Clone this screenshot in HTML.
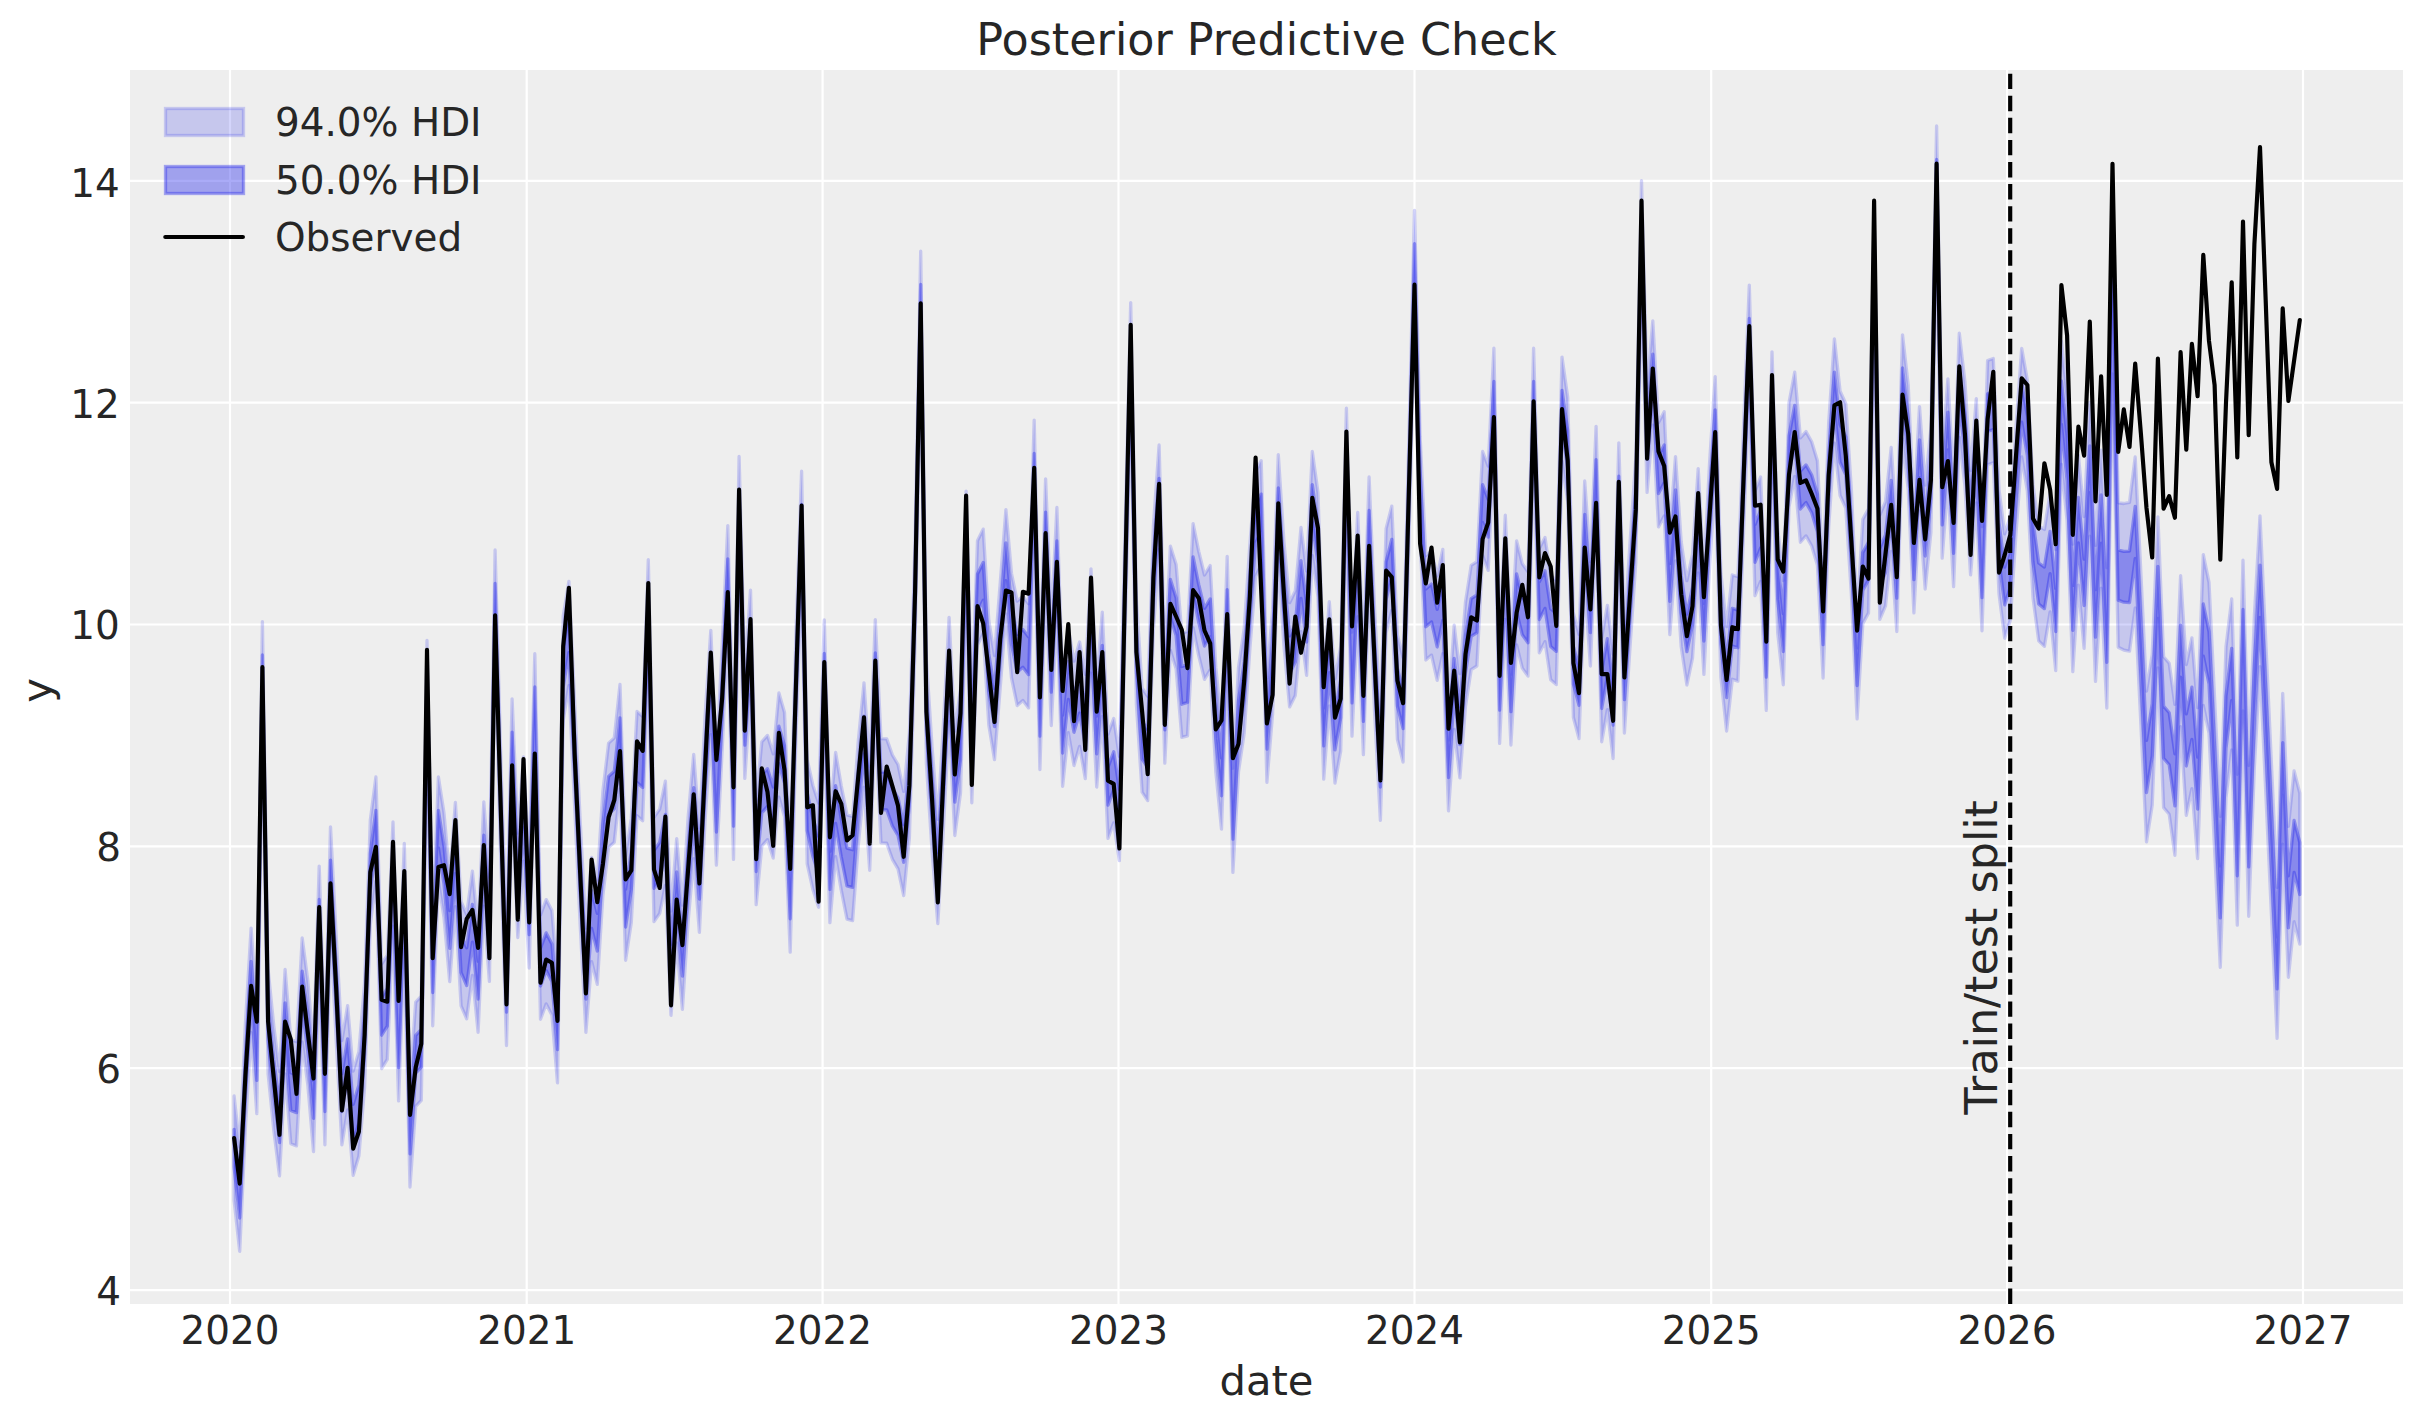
<!DOCTYPE html><html><head><meta charset="utf-8"><title>Posterior Predictive Check</title>
<style>html,body{margin:0;padding:0;background:#fff}svg{display:block}text{font-family:"DejaVu Sans","Liberation Sans",sans-serif;fill:#262626}</style></head><body>
<svg width="2423" height="1423" viewBox="0 0 2423 1423">
<rect x="0" y="0" width="2423" height="1423" fill="#fff"/>
<rect x="130" y="70" width="2273" height="1234" fill="#eeeeee"/>
<g stroke="#fff" stroke-width="2.2" fill="none">
<line x1="230.0" y1="70" x2="230.0" y2="1304"/>
<line x1="526.7" y1="70" x2="526.7" y2="1304"/>
<line x1="822.6" y1="70" x2="822.6" y2="1304"/>
<line x1="1118.5" y1="70" x2="1118.5" y2="1304"/>
<line x1="1414.5" y1="70" x2="1414.5" y2="1304"/>
<line x1="1711.2" y1="70" x2="1711.2" y2="1304"/>
<line x1="2007.1" y1="70" x2="2007.1" y2="1304"/>
<line x1="2303.0" y1="70" x2="2303.0" y2="1304"/>
<line x1="130" y1="1290.1" x2="2403" y2="1290.1"/>
<line x1="130" y1="1068.2" x2="2403" y2="1068.2"/>
<line x1="130" y1="846.4" x2="2403" y2="846.4"/>
<line x1="130" y1="624.5" x2="2403" y2="624.5"/>
<line x1="130" y1="402.7" x2="2403" y2="402.7"/>
<line x1="130" y1="180.8" x2="2403" y2="180.8"/>
</g>
<clipPath id="c"><rect x="130" y="70" width="2273" height="1234"/></clipPath>
<g clip-path="url(#c)">
<path d="M234.1 1096.0 L239.7 1147.0 L245.4 1023.9 L251.1 928.1 L256.8 1009.4 L262.4 621.7 L268.1 969.5 L273.8 1026.1 L279.5 1071.6 L285.1 969.5 L290.8 1039.4 L296.5 1041.6 L302.2 937.9 L307.8 980.4 L313.5 1047.4 L319.2 866.1 L324.9 1040.5 L330.5 826.9 L336.2 936.2 L341.9 1040.5 L347.6 1005.7 L353.2 1071.0 L358.9 1051.6 L364.6 982.8 L370.3 820.2 L375.9 777.0 L381.6 964.2 L387.3 955.1 L393.0 822.0 L398.6 996.6 L404.3 843.4 L410.0 1082.8 L415.7 1002.1 L421.3 996.1 L427.0 640.5 L432.7 921.5 L438.4 777.0 L444.0 813.1 L449.7 877.4 L455.4 802.3 L461.1 901.6 L466.7 914.5 L472.4 871.1 L478.1 928.0 L483.8 801.9 L489.4 877.1 L495.1 550.0 L500.8 757.8 L506.5 941.2 L512.1 698.8 L517.8 833.2 L523.5 756.9 L529.2 863.7 L534.8 653.7 L540.5 915.0 L546.2 899.6 L551.9 910.6 L557.5 978.6 L563.2 616.2 L568.9 581.3 L574.6 701.1 L580.2 821.2 L585.9 928.0 L591.6 857.4 L597.3 880.0 L602.9 790.9 L608.6 743.1 L614.3 737.9 L620.0 684.5 L625.6 856.0 L631.3 818.2 L637.0 711.5 L642.7 716.5 L648.3 559.7 L654.0 817.3 L659.7 809.1 L665.4 781.2 L671.0 911.1 L676.7 838.7 L682.4 905.2 L688.1 817.6 L693.7 754.4 L699.4 828.1 L705.1 715.9 L710.8 630.3 L716.4 761.0 L722.1 646.7 L727.8 525.6 L733.5 755.1 L739.1 456.5 L744.8 674.1 L750.5 590.1 L756.2 800.5 L761.8 741.8 L767.5 735.4 L773.2 753.8 L778.9 692.9 L784.5 712.4 L790.2 847.8 L795.9 635.1 L801.6 471.2 L807.2 759.6 L812.9 785.4 L818.6 803.0 L824.3 620.0 L829.9 818.4 L835.6 752.4 L841.3 786.1 L847.0 814.9 L852.6 816.4 L858.3 740.8 L864.0 682.9 L869.7 766.1 L875.3 619.6 L881.0 738.6 L886.7 738.9 L892.4 755.0 L898.0 764.5 L903.7 791.4 L909.4 733.2 L915.1 539.1 L920.7 251.2 L926.4 659.5 L932.1 747.7 L937.8 819.3 L943.4 724.4 L949.1 617.3 L954.8 731.2 L960.5 688.9 L966.1 491.1 L971.8 698.5 L977.5 540.8 L983.2 529.1 L988.8 620.6 L994.5 655.5 L1000.2 583.5 L1005.9 509.6 L1011.5 573.5 L1017.2 601.1 L1022.9 596.2 L1028.6 603.7 L1034.2 420.1 L1039.9 665.2 L1045.6 478.9 L1051.3 621.2 L1056.9 507.5 L1062.6 682.1 L1068.3 628.4 L1074.0 661.2 L1079.6 642.0 L1085.3 674.3 L1091.0 568.8 L1096.7 682.8 L1102.3 612.1 L1108.0 734.1 L1113.7 718.5 L1119.4 756.4 L1125.0 534.5 L1130.7 302.6 L1136.4 600.0 L1142.1 688.0 L1147.7 696.4 L1153.4 525.8 L1159.1 445.0 L1164.8 658.8 L1170.4 546.2 L1176.1 564.4 L1181.8 633.2 L1187.5 631.5 L1193.1 523.6 L1198.8 551.6 L1204.5 575.0 L1210.2 565.6 L1215.8 667.2 L1221.5 724.8 L1227.2 556.3 L1232.9 768.2 L1238.5 667.6 L1244.2 628.6 L1249.9 544.2 L1255.6 472.1 L1261.2 460.8 L1266.9 678.0 L1272.6 609.4 L1278.3 454.6 L1283.9 541.4 L1289.6 602.7 L1295.3 591.1 L1301.0 527.5 L1306.6 571.1 L1312.3 451.4 L1318.0 492.7 L1323.7 674.9 L1329.3 601.7 L1335.0 678.9 L1340.7 646.6 L1346.4 408.2 L1352.0 632.0 L1357.7 512.4 L1363.4 650.4 L1369.1 477.0 L1374.7 610.9 L1380.4 716.0 L1386.1 528.6 L1391.8 506.2 L1397.4 635.1 L1403.1 657.7 L1408.8 441.8 L1414.5 210.4 L1420.1 436.2 L1425.8 555.7 L1431.5 550.9 L1437.2 576.0 L1442.8 549.4 L1448.5 706.5 L1454.2 625.2 L1459.9 673.7 L1465.5 601.9 L1471.2 565.3 L1476.9 561.7 L1482.6 451.5 L1488.2 466.1 L1493.9 348.2 L1499.6 639.2 L1505.3 515.1 L1510.9 640.7 L1516.6 540.8 L1522.3 563.8 L1528.0 571.8 L1533.6 348.2 L1539.3 548.5 L1545.0 537.4 L1550.7 575.4 L1556.3 580.4 L1562.0 357.1 L1567.7 397.3 L1573.4 613.2 L1579.0 634.3 L1584.7 481.0 L1590.4 561.7 L1596.1 426.3 L1601.7 637.5 L1607.4 605.3 L1613.1 654.2 L1618.8 442.9 L1624.4 628.7 L1630.1 541.6 L1635.8 457.8 L1641.5 180.7 L1647.1 388.1 L1652.8 320.8 L1658.5 422.6 L1664.2 411.8 L1669.8 530.3 L1675.5 456.6 L1681.2 542.1 L1686.9 580.7 L1692.5 554.0 L1698.2 468.7 L1703.9 570.1 L1709.6 462.5 L1715.2 376.6 L1720.9 573.2 L1726.6 626.7 L1732.3 575.0 L1737.9 576.8 L1743.6 425.4 L1749.3 285.1 L1755.0 491.3 L1760.6 477.0 L1766.3 606.1 L1772.0 351.9 L1777.7 528.5 L1783.3 580.5 L1789.0 402.7 L1794.7 372.2 L1800.4 437.9 L1806.0 431.6 L1811.7 441.7 L1817.4 460.7 L1823.1 573.7 L1828.7 422.6 L1834.4 338.9 L1840.1 391.2 L1845.8 403.8 L1851.4 490.3 L1857.1 614.5 L1862.8 519.4 L1868.5 508.7 L1874.1 215.1 L1879.8 515.0 L1885.5 501.7 L1891.2 447.3 L1896.8 527.2 L1902.5 334.8 L1908.2 384.9 L1913.9 508.6 L1919.5 406.7 L1925.2 485.0 L1930.9 428.2 L1936.6 126.0 L1942.2 453.9 L1947.9 378.9 L1953.6 482.3 L1959.3 333.1 L1964.9 381.6 L1970.6 470.5 L1976.3 398.6 L1982.0 526.6 L1987.6 360.5 L1993.3 358.5 L1999.0 489.5 L2004.7 533.9 L2010.3 516.0 L2016.0 427.1 L2021.7 348.4 L2027.4 380.6 L2033.0 484.9 L2038.7 526.0 L2044.4 529.4 L2050.1 492.9 L2055.7 549.5 L2061.4 341.0 L2067.1 395.4 L2072.8 544.1 L2078.4 455.4 L2084.1 516.5 L2089.8 402.3 L2095.5 545.4 L2101.1 450.1 L2106.8 567.7 L2112.5 231.6 L2118.2 502.8 L2123.8 503.5 L2129.5 502.4 L2135.2 457.0 L2140.9 573.5 L2146.5 691.1 L2152.2 654.5 L2157.9 516.9 L2163.6 656.7 L2169.2 663.3 L2174.9 704.4 L2180.6 575.7 L2186.3 664.5 L2191.9 637.8 L2197.6 707.7 L2203.3 554.6 L2209.0 582.4 L2214.6 698.8 L2220.3 816.4 L2226.0 646.7 L2231.7 599.0 L2237.3 774.3 L2243.0 560.2 L2248.7 765.4 L2254.4 615.6 L2260.0 515.8 L2265.7 640.1 L2271.4 763.2 L2277.1 887.4 L2282.7 693.3 L2288.4 826.4 L2294.1 770.9 L2299.8 793.1 L2299.8 944.0 L2294.1 921.8 L2288.4 977.3 L2282.7 844.2 L2277.1 1038.3 L2271.4 914.0 L2265.7 790.9 L2260.0 666.7 L2254.4 766.5 L2248.7 916.3 L2243.0 711.0 L2237.3 925.1 L2231.7 749.9 L2226.0 797.6 L2220.3 967.3 L2214.6 849.7 L2209.0 733.2 L2203.3 705.5 L2197.6 858.6 L2191.9 788.7 L2186.3 815.3 L2180.6 726.6 L2174.9 855.3 L2169.2 814.2 L2163.6 807.6 L2157.9 667.8 L2152.2 805.3 L2146.5 841.9 L2140.9 724.4 L2135.2 607.9 L2129.5 651.2 L2123.8 650.1 L2118.2 647.3 L2112.5 374.0 L2106.8 708.0 L2101.1 588.2 L2095.5 681.4 L2089.8 536.2 L2084.1 648.3 L2078.4 585.1 L2072.8 671.7 L2067.1 520.9 L2061.4 464.3 L2055.7 670.7 L2050.1 612.0 L2044.4 646.4 L2038.7 640.9 L2033.0 597.7 L2027.4 491.3 L2021.7 456.9 L2016.0 533.5 L2010.3 620.3 L2004.7 638.2 L1999.0 593.8 L1993.3 462.8 L1987.6 464.8 L1982.0 630.8 L1976.3 502.8 L1970.6 574.8 L1964.9 485.9 L1959.3 437.4 L1953.6 586.6 L1947.9 483.2 L1942.2 558.2 L1936.6 230.3 L1930.9 532.4 L1925.2 589.2 L1919.5 510.9 L1913.9 612.9 L1908.2 489.2 L1902.5 439.0 L1896.8 631.5 L1891.2 551.5 L1885.5 605.9 L1879.8 619.3 L1874.1 319.4 L1868.5 613.0 L1862.8 623.6 L1857.1 718.8 L1851.4 594.6 L1845.8 508.0 L1840.1 495.5 L1834.4 443.1 L1828.7 526.9 L1823.1 678.0 L1817.4 565.0 L1811.7 546.0 L1806.0 535.9 L1800.4 542.2 L1794.7 476.4 L1789.0 506.9 L1783.3 684.8 L1777.7 632.7 L1772.0 456.1 L1766.3 710.4 L1760.6 581.3 L1755.0 595.6 L1749.3 389.3 L1743.6 529.7 L1737.9 681.1 L1732.3 679.3 L1726.6 731.0 L1720.9 677.4 L1715.2 480.9 L1709.6 566.8 L1703.9 674.3 L1698.2 572.9 L1692.5 658.2 L1686.9 685.0 L1681.2 646.4 L1675.5 560.8 L1669.8 634.6 L1664.2 516.0 L1658.5 526.9 L1652.8 425.1 L1647.1 492.4 L1641.5 285.0 L1635.8 562.1 L1630.1 645.9 L1624.4 733.0 L1618.8 547.2 L1613.1 758.5 L1607.4 709.6 L1601.7 741.8 L1596.1 530.6 L1590.4 666.0 L1584.7 585.3 L1579.0 738.6 L1573.4 717.5 L1567.7 501.6 L1562.0 461.3 L1556.3 684.6 L1550.7 679.7 L1545.0 641.7 L1539.3 652.8 L1533.6 452.5 L1528.0 676.1 L1522.3 668.1 L1516.6 645.0 L1510.9 745.0 L1505.3 619.4 L1499.6 743.4 L1493.9 452.5 L1488.2 570.4 L1482.6 555.7 L1476.9 666.0 L1471.2 669.6 L1465.5 706.2 L1459.9 777.9 L1454.2 729.5 L1448.5 810.8 L1442.8 653.7 L1437.2 680.3 L1431.5 655.1 L1425.8 660.0 L1420.1 540.4 L1414.5 314.7 L1408.8 546.1 L1403.1 762.0 L1397.4 739.3 L1391.8 610.4 L1386.1 632.8 L1380.4 820.3 L1374.7 715.2 L1369.1 581.3 L1363.4 754.6 L1357.7 616.6 L1352.0 736.2 L1346.4 512.5 L1340.7 750.9 L1335.0 783.1 L1329.3 705.9 L1323.7 779.2 L1318.0 597.0 L1312.3 555.6 L1306.6 675.3 L1301.0 631.7 L1295.3 695.4 L1289.6 706.9 L1283.9 645.7 L1278.3 558.8 L1272.6 713.7 L1266.9 782.3 L1261.2 565.1 L1255.6 576.4 L1249.9 648.5 L1244.2 732.9 L1238.5 771.8 L1232.9 872.4 L1227.2 660.6 L1221.5 829.1 L1215.8 771.5 L1210.2 669.9 L1204.5 679.3 L1198.8 655.9 L1193.1 627.8 L1187.5 735.8 L1181.8 737.4 L1176.1 668.7 L1170.4 650.5 L1164.8 763.1 L1159.1 549.3 L1153.4 630.1 L1147.7 800.7 L1142.1 792.2 L1136.4 704.3 L1130.7 406.9 L1125.0 638.8 L1119.4 860.7 L1113.7 822.8 L1108.0 838.4 L1102.3 716.4 L1096.7 787.0 L1091.0 673.1 L1085.3 778.6 L1079.6 746.3 L1074.0 765.5 L1068.3 732.7 L1062.6 786.4 L1056.9 611.8 L1051.3 725.5 L1045.6 583.1 L1039.9 769.5 L1034.2 524.4 L1028.6 707.9 L1022.9 700.5 L1017.2 705.4 L1011.5 677.8 L1005.9 613.9 L1000.2 687.8 L994.5 759.7 L988.8 724.9 L983.2 633.4 L977.5 645.0 L971.8 802.8 L966.1 595.3 L960.5 793.1 L954.8 835.5 L949.1 721.6 L943.4 828.7 L937.8 923.6 L932.1 851.9 L926.4 763.7 L920.7 355.5 L915.1 643.4 L909.4 837.5 L903.7 895.6 L898.0 868.8 L892.4 859.3 L886.7 843.2 L881.0 842.8 L875.3 723.9 L869.7 870.3 L864.0 787.1 L858.3 845.0 L852.6 920.7 L847.0 919.2 L841.3 890.4 L835.6 856.7 L829.9 922.7 L824.3 724.2 L818.6 907.3 L812.9 889.6 L807.2 863.9 L801.6 575.5 L795.9 739.4 L790.2 952.1 L784.5 816.7 L778.9 797.1 L773.2 858.0 L767.5 839.7 L761.8 846.0 L756.2 904.7 L750.5 694.4 L744.8 778.4 L739.1 560.7 L733.5 859.4 L727.8 629.8 L722.1 751.0 L716.4 865.2 L710.8 734.6 L705.1 820.1 L699.4 932.4 L693.7 858.7 L688.1 921.9 L682.4 1009.4 L676.7 943.0 L671.0 1015.3 L665.4 885.4 L659.7 913.4 L654.0 921.6 L648.3 664.0 L642.7 820.8 L637.0 815.8 L631.3 922.5 L625.6 960.3 L620.0 788.8 L614.3 842.2 L608.6 847.4 L602.9 895.2 L597.3 984.3 L591.6 961.6 L585.9 1032.3 L580.2 925.5 L574.6 805.3 L568.9 685.5 L563.2 720.5 L557.5 1082.9 L551.9 1014.9 L546.2 1003.9 L540.5 1019.3 L534.8 758.0 L529.2 968.0 L523.5 861.1 L517.8 937.5 L512.1 803.1 L506.5 1045.5 L500.8 862.1 L495.1 654.2 L489.4 981.4 L483.8 906.2 L478.1 1032.3 L472.4 975.4 L466.7 1018.8 L461.1 1005.9 L455.4 906.6 L449.7 981.7 L444.0 917.4 L438.4 881.3 L432.7 1025.8 L427.0 744.8 L421.3 1100.4 L415.7 1106.4 L410.0 1187.0 L404.3 947.7 L398.6 1100.9 L393.0 926.2 L387.3 1059.4 L381.6 1068.5 L375.9 881.3 L370.3 924.5 L364.6 1087.1 L358.9 1155.9 L353.2 1175.3 L347.6 1109.9 L341.9 1144.8 L336.2 1040.5 L330.5 931.1 L324.9 1144.8 L319.2 970.4 L313.5 1151.7 L307.8 1084.7 L302.2 1042.2 L296.5 1145.9 L290.8 1143.7 L285.1 1073.8 L279.5 1175.8 L273.8 1130.4 L268.1 1073.8 L262.4 726.0 L256.8 1113.7 L251.1 1032.4 L245.4 1128.1 L239.7 1251.3 L234.1 1200.2Z" fill="#2a2eec" fill-opacity="0.2" stroke="#2a2eec" stroke-opacity="0.2" stroke-width="3.3" stroke-linejoin="round"/>
<path d="M234.1 1129.3 L239.7 1180.3 L245.4 1057.1 L251.1 961.4 L256.8 1042.7 L262.4 655.0 L268.1 1002.8 L273.8 1059.4 L279.5 1104.8 L285.1 1002.8 L290.8 1072.7 L296.5 1074.9 L302.2 971.2 L307.8 1013.7 L313.5 1080.7 L319.2 899.4 L324.9 1073.8 L330.5 860.1 L336.2 969.5 L341.9 1073.8 L347.6 1039.0 L353.2 1104.3 L358.9 1084.9 L364.6 1016.1 L370.3 853.5 L375.9 810.3 L381.6 997.5 L387.3 988.4 L393.0 855.3 L398.6 1029.9 L404.3 876.7 L410.0 1116.1 L415.7 1035.4 L421.3 1029.4 L427.0 673.8 L432.7 954.8 L438.4 810.3 L444.0 846.4 L449.7 910.7 L455.4 835.6 L461.1 934.9 L466.7 947.8 L472.4 904.4 L478.1 961.3 L483.8 835.2 L489.4 910.4 L495.1 583.3 L500.8 791.1 L506.5 974.5 L512.1 732.1 L517.8 866.5 L523.5 790.1 L529.2 897.0 L534.8 687.0 L540.5 948.3 L546.2 932.9 L551.9 943.9 L557.5 1011.9 L563.2 649.5 L568.9 614.5 L574.6 734.3 L580.2 854.5 L585.9 961.3 L591.6 890.6 L597.3 913.3 L602.9 824.2 L608.6 776.4 L614.3 771.2 L620.0 717.8 L625.6 889.3 L631.3 851.5 L637.0 744.8 L642.7 749.8 L648.3 593.0 L654.0 850.6 L659.7 842.4 L665.4 814.4 L671.0 944.3 L676.7 872.0 L682.4 938.5 L688.1 850.9 L693.7 787.7 L699.4 861.4 L705.1 749.1 L710.8 663.6 L716.4 794.2 L722.1 680.0 L727.8 558.8 L733.5 788.4 L739.1 489.7 L744.8 707.4 L750.5 623.4 L756.2 833.7 L761.8 775.1 L767.5 768.7 L773.2 787.0 L778.9 726.1 L784.5 745.7 L790.2 881.1 L795.9 668.4 L801.6 504.5 L807.2 792.9 L812.9 818.6 L818.6 836.3 L824.3 653.3 L829.9 851.7 L835.6 785.7 L841.3 819.4 L847.0 848.2 L852.6 849.7 L858.3 774.1 L864.0 716.1 L869.7 799.3 L875.3 652.9 L881.0 771.8 L886.7 772.2 L892.4 788.3 L898.0 797.8 L903.7 824.6 L909.4 766.5 L915.1 572.4 L920.7 284.5 L926.4 692.7 L932.1 780.9 L937.8 852.6 L943.4 757.7 L949.1 650.6 L954.8 764.5 L960.5 722.1 L966.1 524.4 L971.8 731.8 L977.5 574.0 L983.2 562.4 L988.8 653.9 L994.5 688.7 L1000.2 616.8 L1005.9 542.9 L1011.5 606.8 L1017.2 634.4 L1022.9 629.5 L1028.6 636.9 L1034.2 453.4 L1039.9 698.5 L1045.6 512.1 L1051.3 654.5 L1056.9 540.8 L1062.6 715.4 L1068.3 661.7 L1074.0 694.5 L1079.6 675.3 L1085.3 707.6 L1091.0 602.1 L1096.7 716.0 L1102.3 645.4 L1108.0 767.4 L1113.7 751.8 L1119.4 789.7 L1125.0 567.8 L1130.7 335.9 L1136.4 633.3 L1142.1 721.3 L1147.7 729.7 L1153.4 559.1 L1159.1 478.3 L1164.8 692.1 L1170.4 579.5 L1176.1 597.7 L1181.8 666.5 L1187.5 664.8 L1193.1 556.9 L1198.8 584.9 L1204.5 608.3 L1210.2 598.9 L1215.8 700.5 L1221.5 758.1 L1227.2 589.6 L1232.9 801.5 L1238.5 700.8 L1244.2 661.9 L1249.9 577.5 L1255.6 505.4 L1261.2 494.1 L1266.9 711.3 L1272.6 642.7 L1278.3 487.9 L1283.9 574.7 L1289.6 635.9 L1295.3 624.4 L1301.0 560.7 L1306.6 604.3 L1312.3 484.6 L1318.0 526.0 L1323.7 708.2 L1329.3 634.9 L1335.0 712.2 L1340.7 679.9 L1346.4 441.5 L1352.0 665.2 L1357.7 545.6 L1363.4 683.6 L1369.1 510.3 L1374.7 644.2 L1380.4 749.3 L1386.1 561.8 L1391.8 539.4 L1397.4 668.3 L1403.1 691.0 L1408.8 475.1 L1414.5 243.7 L1420.1 469.4 L1425.8 589.0 L1431.5 584.1 L1437.2 609.3 L1442.8 582.7 L1448.5 739.8 L1454.2 658.5 L1459.9 706.9 L1465.5 635.2 L1471.2 598.6 L1476.9 595.0 L1482.6 484.7 L1488.2 499.4 L1493.9 381.5 L1499.6 672.4 L1505.3 548.4 L1510.9 674.0 L1516.6 574.0 L1522.3 597.1 L1528.0 605.1 L1533.6 381.5 L1539.3 581.8 L1545.0 570.7 L1550.7 608.7 L1556.3 613.6 L1562.0 390.3 L1567.7 430.6 L1573.4 646.5 L1579.0 667.6 L1584.7 514.3 L1590.4 595.0 L1596.1 459.6 L1601.7 670.8 L1607.4 638.6 L1613.1 687.5 L1618.8 476.2 L1624.4 662.0 L1630.1 574.9 L1635.8 491.1 L1641.5 214.0 L1647.1 421.4 L1652.8 354.1 L1658.5 455.9 L1664.2 445.0 L1669.8 563.6 L1675.5 489.9 L1681.2 575.4 L1686.9 614.0 L1692.5 587.2 L1698.2 501.9 L1703.9 603.3 L1709.6 495.8 L1715.2 409.9 L1720.9 606.4 L1726.6 660.0 L1732.3 608.3 L1737.9 610.1 L1743.6 458.7 L1749.3 318.4 L1755.0 524.6 L1760.6 510.3 L1766.3 639.4 L1772.0 385.1 L1777.7 561.7 L1783.3 613.8 L1789.0 435.9 L1794.7 405.4 L1800.4 471.2 L1806.0 464.9 L1811.7 475.0 L1817.4 494.0 L1823.1 607.0 L1828.7 455.9 L1834.4 372.2 L1840.1 424.5 L1845.8 437.0 L1851.4 523.6 L1857.1 647.8 L1862.8 552.6 L1868.5 542.0 L1874.1 248.4 L1879.8 548.3 L1885.5 534.9 L1891.2 480.5 L1896.8 560.5 L1902.5 368.0 L1908.2 418.2 L1913.9 541.9 L1919.5 439.9 L1925.2 518.2 L1930.9 461.5 L1936.6 159.3 L1942.2 487.2 L1947.9 412.2 L1953.6 515.6 L1959.3 366.4 L1964.9 414.9 L1970.6 503.8 L1976.3 431.8 L1982.0 559.8 L1987.6 393.8 L1993.3 391.8 L1999.0 522.8 L2004.7 567.2 L2010.3 549.3 L2016.0 461.1 L2021.7 383.1 L2027.4 416.1 L2033.0 521.2 L2038.7 563.0 L2044.4 567.1 L2050.1 531.3 L2055.7 588.6 L2061.4 380.9 L2067.1 436.0 L2072.8 585.4 L2078.4 497.5 L2084.1 559.2 L2089.8 445.8 L2095.5 589.7 L2101.1 495.0 L2106.8 613.4 L2112.5 278.1 L2118.2 550.0 L2123.8 551.4 L2129.5 551.1 L2135.2 506.4 L2140.9 622.9 L2146.5 740.4 L2152.2 703.8 L2157.9 566.3 L2163.6 706.1 L2169.2 712.7 L2174.9 753.8 L2180.6 625.1 L2186.3 713.8 L2191.9 687.2 L2197.6 757.1 L2203.3 604.0 L2209.0 631.7 L2214.6 748.2 L2220.3 865.8 L2226.0 696.1 L2231.7 648.4 L2237.3 823.6 L2243.0 609.5 L2248.7 814.8 L2254.4 665.0 L2260.0 565.2 L2265.7 689.4 L2271.4 812.5 L2277.1 936.8 L2282.7 742.7 L2288.4 875.8 L2294.1 820.3 L2299.8 842.5 L2299.8 894.6 L2294.1 872.4 L2288.4 927.9 L2282.7 794.8 L2277.1 988.9 L2271.4 864.7 L2265.7 741.6 L2260.0 617.3 L2254.4 717.1 L2248.7 866.9 L2243.0 661.7 L2237.3 875.8 L2231.7 700.5 L2226.0 748.2 L2220.3 917.9 L2214.6 800.3 L2209.0 683.9 L2203.3 656.1 L2197.6 809.2 L2191.9 739.3 L2186.3 766.0 L2180.6 677.2 L2174.9 805.9 L2169.2 764.8 L2163.6 758.2 L2157.9 618.4 L2152.2 756.0 L2146.5 792.6 L2140.9 675.0 L2135.2 558.5 L2129.5 602.6 L2123.8 602.2 L2118.2 600.1 L2112.5 327.6 L2106.8 662.3 L2101.1 543.2 L2095.5 637.2 L2089.8 492.7 L2084.1 605.5 L2078.4 543.0 L2072.8 630.3 L2067.1 480.3 L2061.4 424.5 L2055.7 631.6 L2050.1 573.6 L2044.4 608.7 L2038.7 604.0 L2033.0 561.5 L2027.4 455.8 L2021.7 422.2 L2016.0 499.5 L2010.3 587.0 L2004.7 604.9 L1999.0 560.5 L1993.3 429.5 L1987.6 431.5 L1982.0 597.6 L1976.3 469.6 L1970.6 541.5 L1964.9 452.6 L1959.3 404.1 L1953.6 553.3 L1947.9 449.9 L1942.2 524.9 L1936.6 197.0 L1930.9 499.2 L1925.2 556.0 L1919.5 477.6 L1913.9 579.6 L1908.2 455.9 L1902.5 405.8 L1896.8 598.2 L1891.2 518.2 L1885.5 572.7 L1879.8 586.0 L1874.1 286.1 L1868.5 579.7 L1862.8 590.4 L1857.1 685.5 L1851.4 561.3 L1845.8 474.8 L1840.1 462.2 L1834.4 409.9 L1828.7 493.6 L1823.1 644.7 L1817.4 531.7 L1811.7 512.7 L1806.0 502.6 L1800.4 508.9 L1794.7 443.1 L1789.0 473.7 L1783.3 651.5 L1777.7 599.4 L1772.0 422.8 L1766.3 677.1 L1760.6 548.0 L1755.0 562.3 L1749.3 356.1 L1743.6 496.4 L1737.9 647.8 L1732.3 646.0 L1726.6 697.7 L1720.9 644.2 L1715.2 447.6 L1709.6 533.5 L1703.9 641.0 L1698.2 539.7 L1692.5 625.0 L1686.9 651.7 L1681.2 613.1 L1675.5 527.6 L1669.8 601.3 L1664.2 482.8 L1658.5 493.6 L1652.8 391.8 L1647.1 459.1 L1641.5 251.7 L1635.8 528.8 L1630.1 612.6 L1624.4 699.7 L1618.8 513.9 L1613.1 725.2 L1607.4 676.3 L1601.7 708.5 L1596.1 497.3 L1590.4 632.7 L1584.7 552.0 L1579.0 705.3 L1573.4 684.2 L1567.7 468.3 L1562.0 428.1 L1556.3 651.4 L1550.7 646.4 L1545.0 608.4 L1539.3 619.5 L1533.6 419.2 L1528.0 642.8 L1522.3 634.8 L1516.6 611.8 L1510.9 711.7 L1505.3 586.1 L1499.6 710.2 L1493.9 419.2 L1488.2 537.1 L1482.6 522.5 L1476.9 632.7 L1471.2 636.3 L1465.5 672.9 L1459.9 744.7 L1454.2 696.2 L1448.5 777.5 L1442.8 620.4 L1437.2 647.0 L1431.5 621.9 L1425.8 626.7 L1420.1 507.2 L1414.5 281.4 L1408.8 512.8 L1403.1 728.7 L1397.4 706.1 L1391.8 577.2 L1386.1 599.6 L1380.4 787.0 L1374.7 681.9 L1369.1 548.0 L1363.4 721.4 L1357.7 583.4 L1352.0 702.9 L1346.4 479.2 L1340.7 717.6 L1335.0 749.9 L1329.3 672.7 L1323.7 745.9 L1318.0 563.7 L1312.3 522.4 L1306.6 642.0 L1301.0 598.5 L1295.3 662.1 L1289.6 673.7 L1283.9 612.4 L1278.3 525.6 L1272.6 680.4 L1266.9 749.0 L1261.2 531.8 L1255.6 543.1 L1249.9 615.2 L1244.2 699.6 L1238.5 738.6 L1232.9 839.2 L1227.2 627.3 L1221.5 795.8 L1215.8 738.2 L1210.2 636.6 L1204.5 646.0 L1198.8 622.6 L1193.1 594.6 L1187.5 702.5 L1181.8 704.2 L1176.1 635.4 L1170.4 617.2 L1164.8 729.8 L1159.1 516.0 L1153.4 596.8 L1147.7 767.4 L1142.1 759.0 L1136.4 671.0 L1130.7 373.6 L1125.0 605.5 L1119.4 827.4 L1113.7 789.5 L1108.0 805.1 L1102.3 683.1 L1096.7 753.8 L1091.0 639.8 L1085.3 745.3 L1079.6 713.0 L1074.0 732.2 L1068.3 699.4 L1062.6 753.1 L1056.9 578.5 L1051.3 692.2 L1045.6 549.9 L1039.9 736.2 L1034.2 491.1 L1028.6 674.7 L1022.9 667.2 L1017.2 672.1 L1011.5 644.5 L1005.9 580.6 L1000.2 654.5 L994.5 726.5 L988.8 691.6 L983.2 600.1 L977.5 611.8 L971.8 769.5 L966.1 562.1 L960.5 759.9 L954.8 802.2 L949.1 688.3 L943.4 795.4 L937.8 890.3 L932.1 818.6 L926.4 730.5 L920.7 322.2 L915.1 610.1 L909.4 804.2 L903.7 862.4 L898.0 835.5 L892.4 826.0 L886.7 809.9 L881.0 809.6 L875.3 690.6 L869.7 837.1 L864.0 753.9 L858.3 811.8 L852.6 887.4 L847.0 885.9 L841.3 857.1 L835.6 823.4 L829.9 889.4 L824.3 691.0 L818.6 874.0 L812.9 856.4 L807.2 830.6 L801.6 542.2 L795.9 706.1 L790.2 918.8 L784.5 783.4 L778.9 763.8 L773.2 824.7 L767.5 806.4 L761.8 812.8 L756.2 871.5 L750.5 661.1 L744.8 745.1 L739.1 527.5 L733.5 826.1 L727.8 596.6 L722.1 717.7 L716.4 832.0 L710.8 701.3 L705.1 786.9 L699.4 899.1 L693.7 825.4 L688.1 888.6 L682.4 976.2 L676.7 909.7 L671.0 982.0 L665.4 852.1 L659.7 880.1 L654.0 888.3 L648.3 630.7 L642.7 787.5 L637.0 782.5 L631.3 889.2 L625.6 927.0 L620.0 755.5 L614.3 808.9 L608.6 814.1 L602.9 861.9 L597.3 951.0 L591.6 928.4 L585.9 999.0 L580.2 892.2 L574.6 772.1 L568.9 652.3 L563.2 687.2 L557.5 1049.6 L551.9 981.6 L546.2 970.6 L540.5 986.0 L534.8 724.7 L529.2 934.7 L523.5 827.9 L517.8 904.2 L512.1 769.8 L506.5 1012.2 L500.8 828.8 L495.1 621.0 L489.4 948.1 L483.8 872.9 L478.1 999.0 L472.4 942.1 L466.7 985.5 L461.1 972.6 L455.4 873.3 L449.7 948.4 L444.0 884.1 L438.4 848.0 L432.7 992.5 L427.0 711.5 L421.3 1067.1 L415.7 1073.1 L410.0 1153.8 L404.3 914.4 L398.6 1067.6 L393.0 893.0 L387.3 1026.1 L381.6 1035.2 L375.9 848.0 L370.3 891.2 L364.6 1053.8 L358.9 1122.6 L353.2 1142.0 L347.6 1076.7 L341.9 1111.5 L336.2 1007.2 L330.5 897.9 L324.9 1111.5 L319.2 937.1 L313.5 1118.4 L307.8 1051.4 L302.2 1008.9 L296.5 1112.6 L290.8 1110.4 L285.1 1040.5 L279.5 1142.6 L273.8 1097.1 L268.1 1040.5 L262.4 692.7 L256.8 1080.4 L251.1 999.1 L245.4 1094.9 L239.7 1218.0 L234.1 1167.0Z" fill="#2a2eec" fill-opacity="0.4" stroke="#2a2eec" stroke-opacity="0.4" stroke-width="3.3" stroke-linejoin="round"/>
<path d="M234.1 1138.1 L239.7 1183.6 L245.4 1076.0 L251.1 985.8 L256.8 1021.6 L262.4 667.2 L268.1 1021.6 L273.8 1078.2 L279.5 1134.8 L285.1 1021.6 L290.8 1039.4 L296.5 1093.8 L302.2 986.7 L307.8 1032.6 L313.5 1078.4 L319.2 907.2 L324.9 1073.8 L330.5 883.4 L336.2 988.4 L341.9 1110.4 L347.6 1067.8 L353.2 1148.7 L358.9 1131.5 L364.6 1035.0 L370.3 872.3 L375.9 846.9 L381.6 999.7 L387.3 1001.7 L393.0 841.9 L398.6 1001.0 L404.3 871.1 L410.0 1114.9 L415.7 1067.6 L421.3 1043.8 L427.0 649.9 L432.7 958.1 L438.4 866.9 L444.0 865.2 L449.7 894.1 L455.4 820.1 L461.1 947.1 L466.7 918.9 L472.4 909.9 L478.1 948.0 L483.8 845.2 L489.4 958.1 L495.1 615.4 L500.8 809.9 L506.5 1004.5 L512.1 765.4 L517.8 919.7 L523.5 759.1 L529.2 922.5 L534.8 753.5 L540.5 982.7 L546.2 959.5 L551.9 962.7 L557.5 1020.8 L563.2 646.2 L568.9 587.9 L574.6 753.2 L580.2 873.3 L585.9 993.5 L591.6 859.6 L597.3 902.2 L602.9 864.1 L608.6 817.4 L614.3 800.0 L620.0 751.1 L625.6 879.3 L631.3 870.3 L637.0 741.4 L642.7 750.9 L648.3 583.0 L654.0 869.5 L659.7 887.9 L665.4 816.7 L671.0 1005.3 L676.7 899.7 L682.4 945.1 L688.1 869.7 L693.7 794.4 L699.4 883.5 L705.1 768.0 L710.8 652.5 L716.4 759.9 L722.1 698.8 L727.8 592.1 L733.5 787.3 L739.1 489.7 L744.8 730.7 L750.5 619.0 L756.2 859.2 L761.8 768.4 L767.5 792.0 L773.2 845.8 L778.9 732.8 L784.5 770.1 L790.2 868.9 L795.9 687.3 L801.6 505.6 L807.2 807.3 L812.9 805.3 L818.6 901.7 L824.3 662.1 L829.9 837.3 L835.6 791.2 L841.3 803.9 L847.0 840.4 L852.6 835.3 L858.3 776.3 L864.0 717.3 L869.7 843.7 L875.3 660.7 L881.0 812.9 L886.7 766.6 L892.4 786.1 L898.0 805.6 L903.7 856.8 L909.4 785.4 L915.1 591.2 L920.7 303.4 L926.4 711.6 L932.1 799.8 L937.8 902.5 L943.4 776.5 L949.1 650.6 L954.8 774.5 L960.5 713.3 L966.1 495.5 L971.8 785.0 L977.5 606.2 L983.2 623.4 L988.8 672.7 L994.5 722.0 L1000.2 638.9 L1005.9 590.6 L1011.5 592.4 L1017.2 672.1 L1022.9 591.8 L1028.6 593.7 L1034.2 467.8 L1039.9 697.4 L1045.6 533.2 L1051.3 670.0 L1056.9 561.8 L1062.6 691.0 L1068.3 624.0 L1074.0 721.1 L1079.6 652.0 L1085.3 749.8 L1091.0 577.7 L1096.7 711.6 L1102.3 652.0 L1108.0 780.7 L1113.7 783.9 L1119.4 848.5 L1125.0 586.6 L1130.7 324.8 L1136.4 652.1 L1142.1 711.3 L1147.7 774.1 L1153.4 577.9 L1159.1 483.9 L1164.8 724.8 L1170.4 603.9 L1176.1 616.5 L1181.8 629.8 L1187.5 668.1 L1193.1 590.1 L1198.8 598.2 L1204.5 630.5 L1210.2 643.3 L1215.8 729.3 L1221.5 720.4 L1227.2 614.0 L1232.9 758.2 L1238.5 744.1 L1244.2 680.8 L1249.9 596.3 L1255.6 457.7 L1261.2 590.6 L1266.9 723.5 L1272.6 694.8 L1278.3 503.4 L1283.9 593.5 L1289.6 683.6 L1295.3 616.6 L1301.0 652.8 L1306.6 626.5 L1312.3 497.9 L1318.0 528.2 L1323.7 687.1 L1329.3 619.4 L1335.0 717.7 L1340.7 698.7 L1346.4 431.5 L1352.0 626.4 L1357.7 535.7 L1363.4 695.8 L1369.1 545.8 L1374.7 663.1 L1380.4 780.4 L1386.1 570.7 L1391.8 577.2 L1397.4 680.5 L1403.1 703.2 L1408.8 494.0 L1414.5 284.7 L1420.1 543.8 L1425.8 583.5 L1431.5 547.5 L1437.2 602.7 L1442.8 565.0 L1448.5 728.7 L1454.2 670.7 L1459.9 742.4 L1465.5 654.0 L1471.2 617.4 L1476.9 620.5 L1482.6 539.1 L1488.2 522.7 L1493.9 417.0 L1499.6 675.8 L1505.3 538.4 L1510.9 662.9 L1516.6 612.9 L1522.3 584.9 L1528.0 617.3 L1533.6 401.4 L1539.3 577.4 L1545.0 553.0 L1550.7 566.5 L1556.3 625.9 L1562.0 409.2 L1567.7 460.6 L1573.4 663.1 L1579.0 693.1 L1584.7 547.5 L1590.4 609.4 L1596.1 502.8 L1601.7 674.1 L1607.4 674.1 L1613.1 720.8 L1618.8 481.8 L1624.4 677.5 L1630.1 593.7 L1635.8 509.9 L1641.5 200.7 L1647.1 458.6 L1652.8 368.5 L1658.5 451.5 L1664.2 466.1 L1669.8 532.6 L1675.5 516.5 L1681.2 594.2 L1686.9 636.2 L1692.5 606.1 L1698.2 493.1 L1703.9 597.2 L1709.6 514.6 L1715.2 432.1 L1720.9 625.3 L1726.6 680.0 L1732.3 627.2 L1737.9 629.0 L1743.6 477.5 L1749.3 326.1 L1755.0 505.7 L1760.6 504.7 L1766.3 641.6 L1772.0 375.1 L1777.7 559.5 L1783.3 571.6 L1789.0 474.8 L1794.7 432.1 L1800.4 482.9 L1806.0 480.4 L1811.7 493.8 L1817.4 508.4 L1823.1 611.4 L1828.7 474.8 L1834.4 405.4 L1840.1 402.3 L1845.8 455.9 L1851.4 542.4 L1857.1 630.6 L1862.8 566.5 L1868.5 578.6 L1874.1 200.7 L1879.8 602.7 L1885.5 553.8 L1891.2 504.9 L1896.8 577.2 L1902.5 394.7 L1908.2 433.7 L1913.9 543.0 L1919.5 479.9 L1925.2 539.3 L1930.9 480.3 L1936.6 163.7 L1942.2 487.2 L1947.9 461.0 L1953.6 522.8 L1959.3 366.4 L1964.9 433.7 L1970.6 554.9 L1976.3 420.7 L1982.0 521.0 L1987.6 419.3 L1993.3 371.8 L1999.0 572.7 L2004.7 555.0 L2010.3 534.9 L2016.0 455.9 L2021.7 378.3 L2027.4 385.0 L2033.0 518.5 L2038.7 528.6 L2044.4 463.3 L2050.1 489.6 L2055.7 544.2 L2061.4 285.1 L2067.1 335.5 L2072.8 534.8 L2078.4 426.7 L2084.1 455.7 L2089.8 321.7 L2095.5 501.3 L2101.1 376.3 L2106.8 495.0 L2112.5 163.8 L2118.2 452.0 L2123.8 409.4 L2129.5 447.0 L2135.2 363.6 L2140.9 433.7 L2146.5 508.0 L2152.2 557.4 L2157.9 358.5 L2163.6 508.6 L2169.2 496.2 L2174.9 517.8 L2180.6 352.1 L2186.3 449.6 L2191.9 343.9 L2197.6 396.2 L2203.3 254.9 L2209.0 341.0 L2214.6 384.9 L2220.3 559.7 L2226.0 402.7 L2231.7 282.3 L2237.3 457.5 L2243.0 221.5 L2248.7 435.1 L2254.4 244.1 L2260.0 147.2 L2265.7 300.6 L2271.4 462.2 L2277.1 488.9 L2282.7 308.3 L2288.4 400.9 L2294.1 360.5 L2299.8 320.0" fill="none" stroke="#000" stroke-width="4.17" stroke-linejoin="round" stroke-linecap="round"/>
<line x1="2010.2" y1="1304" x2="2010.2" y2="70" stroke="#000" stroke-width="4.17" stroke-dasharray="15.42 6.67"/>
</g>
<rect x="165.5" y="108.5" width="78" height="27" fill="#2a2eec" fill-opacity="0.2" stroke="#2a2eec" stroke-opacity="0.2" stroke-width="3.3"/>
<rect x="165.5" y="166.5" width="78" height="27" fill="#2a2eec" fill-opacity="0.4" stroke="#2a2eec" stroke-opacity="0.4" stroke-width="3.3"/>
<line x1="165.3" y1="237" x2="242.9" y2="237" stroke="#000" stroke-width="4.17" stroke-linecap="round"/>
<text x="275" y="135.5" font-size="38.9">94.0% HDI</text>
<text x="275" y="193.5" font-size="38.9">50.0% HDI</text>
<text x="275" y="250.8" font-size="38.9">Observed</text>
<text x="230.0" y="1344" font-size="38.9" text-anchor="middle">2020</text>
<text x="526.7" y="1344" font-size="38.9" text-anchor="middle">2021</text>
<text x="822.6" y="1344" font-size="38.9" text-anchor="middle">2022</text>
<text x="1118.5" y="1344" font-size="38.9" text-anchor="middle">2023</text>
<text x="1414.5" y="1344" font-size="38.9" text-anchor="middle">2024</text>
<text x="1711.2" y="1344" font-size="38.9" text-anchor="middle">2025</text>
<text x="2007.1" y="1344" font-size="38.9" text-anchor="middle">2026</text>
<text x="2303.0" y="1344" font-size="38.9" text-anchor="middle">2027</text>
<text x="121.0" y="1304.7" font-size="38.9" text-anchor="end">4</text>
<text x="121.0" y="1082.8" font-size="38.9" text-anchor="end">6</text>
<text x="121.0" y="860.9" font-size="38.9" text-anchor="end">8</text>
<text x="119.8" y="639.0" font-size="38.9" text-anchor="end">10</text>
<text x="119.8" y="418.2" font-size="38.9" text-anchor="end">12</text>
<text x="119.8" y="196.6" font-size="38.9" text-anchor="end">14</text>
<text x="1266.5" y="54.5" font-size="44.44" text-anchor="middle">Posterior Predictive Check</text>
<text x="1266.5" y="1395" font-size="41.67" text-anchor="middle">date</text>
<text transform="translate(51,690.3) rotate(-90)" font-size="41.67" text-anchor="middle">y</text>
<text transform="translate(1997.3,1114.5) rotate(-90)" font-size="44.44">Train/test split</text>
</svg></body></html>
